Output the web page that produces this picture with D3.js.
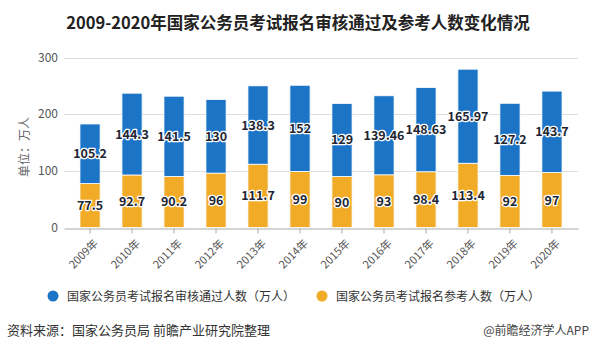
<!DOCTYPE html>
<html>
<head>
<meta charset="utf-8">
<script src="https://cdn.jsdelivr.net/npm/d3@7"></script>
<style>
  body { margin: 0; background: #fff; }
  svg { font-family: "Noto Sans CJK SC", "Noto Sans", sans-serif; }
</style>
</head>
<body>
<svg id="chart" width="591" height="351"></svg>
<script>
const years = ["2009年","2010年","2011年","2012年","2013年","2014年","2015年","2016年","2017年","2018年","2019年","2020年"];
const takers = [77.5, 92.7, 90.2, 96, 111.7, 99, 90, 93, 98.4, 113.4, 92, 97];
const passed = [105.2, 144.3, 141.5, 130, 138.3, 152, 129, 139.46, 148.63, 165.97, 127.2, 143.7];
const yTicks = [0, 100, 200, 300];
const seriesNames = ["国家公务员考试报名审核通过人数（万人）", "国家公务员考试报名参考人数（万人）"];
const colors = { passed: "#1c74c6", takers: "#f2ab27" };

const svg = d3.select("#chart");
const margin = { left: 64, right: 13, top: 57.5, bottom: 124 };
const W = 591, H = 351;

const data = years.map((y, i) => ({ year: y, takers: takers[i], passed: passed[i] }));
const stack = d3.stack().keys(["takers", "passed"])(data);

const x = d3.scaleBand()
  .domain(years)
  .range([margin.left, W - margin.right])
  .paddingInner(0.52)
  .paddingOuter(0.38);

const y = d3.scaleLinear()
  .domain([0, 300])
  .range([H - margin.bottom + 0.5, margin.top]);

// title
svg.append("text")
  .attr("x", 298).attr("y", 29)
  .attr("text-anchor", "middle")
  .attr("font-size", 16.5).attr("font-weight", "bold")
  .attr("fill", "#222")
  .text("2009-2020年国家公务员考试报名审核通过及参考人数变化情况");

// gridlines
svg.append("g")
  .selectAll("line")
  .data(yTicks.filter(d => d > 0))
  .join("line")
  .attr("x1", margin.left).attr("x2", W - margin.right)
  .attr("y1", d => Math.round(y(d)) + 0.5).attr("y2", d => Math.round(y(d)) + 0.5)
  .attr("stroke", "#dddddd");

// y axis labels
svg.append("g")
  .selectAll("text")
  .data(yTicks)
  .join("text")
  .attr("x", 58).attr("y", d => y(d) + 4)
  .attr("text-anchor", "end")
  .attr("font-size", 12).attr("fill", "#555")
  .text(d => d);

svg.append("text")
  .attr("transform", "translate(29,147) rotate(-90)")
  .attr("text-anchor", "middle")
  .attr("font-size", 12).attr("fill", "#666")
  .text("单位：万人");

// bars
svg.append("g")
  .selectAll("g")
  .data(stack)
  .join("g")
  .attr("fill", d => colors[d.key])
  .selectAll("rect")
  .data(d => d)
  .join("rect")
  .attr("x", d => x(d.data.year))
  .attr("width", x.bandwidth())
  .attr("y", d => y(d[1]))
  .attr("height", d => y(d[0]) - y(d[1]))
  .attr("stroke", "#fff")
  .attr("stroke-width", 0.8);

// value labels
svg.append("g")
  .selectAll("g")
  .data(stack)
  .join("g")
  .selectAll("text")
  .data(d => d.map(v => ({ v, key: d.key })))
  .join("text")
  .attr("x", d => x(d.v.data.year) + x.bandwidth() / 2)
  .attr("y", d => (y(d.v[0]) + y(d.v[1])) / 2 + 4.5)
  .attr("text-anchor", "middle")
  .attr("font-size", 12.5).attr("font-weight", "bold")
  .attr("fill", "#1e2633")
  .attr("stroke", "#fff").attr("stroke-width", 2.5)
  .attr("paint-order", "stroke")
  .attr("stroke-linejoin", "round")
  .text(d => d.v.data[d.key]);

// x axis
const xAxis = d3.axisBottom(x).tickSize(5).tickSizeOuter(0);
const gx = svg.append("g")
  .attr("transform", `translate(0,${Math.round(y(0)) + 0.5})`)
  .call(xAxis);
gx.select(".domain").attr("stroke", "#aaa");
gx.selectAll(".tick line").attr("stroke", "#aaa");
gx.selectAll(".tick text")
  .attr("font-size", 11).attr("fill", "#555")
  .attr("font-family", "\"Noto Sans CJK SC\", sans-serif")
  .attr("text-anchor", "end")
  .attr("dx", 0).attr("dy", 0)
  .attr("transform", "translate(3,10) rotate(-45)");

// legend
const legend = svg.append("g");
const legendItems = [
  { name: seriesNames[0], color: colors.passed, x: 53 },
  { name: seriesNames[1], color: colors.takers, x: 322 }
];
legendItems.forEach(d => {
  legend.append("circle").attr("cx", d.x).attr("cy", 296).attr("r", 5.5).attr("fill", d.color);
  legend.append("text").attr("x", d.x + 14).attr("y", 300.5)
    .attr("font-size", 12).attr("fill", "#333").text(d.name);
});

// footer
svg.append("text").attr("x", 7).attr("y", 335)
  .attr("font-size", 13).attr("fill", "#333")
  .text("资料来源：国家公务员局 前瞻产业研究院整理");
svg.append("text").attr("x", 589).attr("y", 335)
  .attr("text-anchor", "end")
  .attr("font-size", 12).attr("fill", "#444")
  .text("@前瞻经济学人APP");
</script>
</body>
</html>
